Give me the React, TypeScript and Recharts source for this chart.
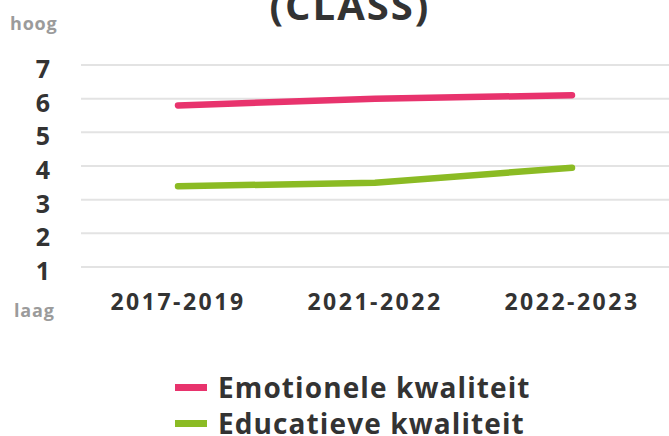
import { CartesianGrid, Line, LineChart, XAxis, YAxis } from "recharts";

const perioden = ["2017-2019", "2021-2022", "2022-2023"];
const emotioneel = [5.8, 6.0, 6.1];
const educatief = [3.4, 3.5, 3.95];
const yTicks = [1, 2, 3, 4, 5, 6, 7];

const PINK = "#e8336d";
const GREEN = "#8bbb24";
const DARK = "#333333";
const GREY = "#9b9b9b";
const FONT = "'Open Sans', sans-serif";

const data = perioden.map((p, i) => ({
  periode: p,
  emotioneel: emotioneel[i],
  educatief: educatief[i],
}));

const legendItems = [
  { name: "Emotionele kwaliteit", color: PINK },
  { name: "Educatieve kwaliteit", color: GREEN },
];

function YTick({ y, payload }: any) {
  return (
    <text x={43} y={y} dy={13} textAnchor="middle" fill={DARK} fontSize={25} fontWeight={700} fontFamily={FONT}>
      {payload.value}
    </text>
  );
}

function XTick({ x, payload }: any) {
  return (
    <text x={x} y={310} textAnchor="middle" fill={DARK} fontSize={23} fontWeight={700} fontFamily={FONT} letterSpacing={2.5}>
      {payload.value}
    </text>
  );
}

export default function App() {
  return (
    <div style={{ position: "absolute", left: 0, top: 0, width: 669, height: 436, overflow: "hidden", background: "#fff", fontFamily: FONT }}>
      <div style={{ position: "absolute", left: 0, width: 700, top: -23, textAlign: "center", fontSize: 40, fontWeight: 700, letterSpacing: 2, color: DARK }}>
        (CLASS)
      </div>
      <div style={{ position: "absolute", left: 10, top: 11, fontSize: 18, fontWeight: 700, letterSpacing: 0.8, color: GREY }}>hoog</div>
      <div style={{ position: "absolute", left: 14, top: 298, fontSize: 18, fontWeight: 700, letterSpacing: 0.8, color: GREY }}>laag</div>
      <LineChart width={669} height={436} data={data} margin={{ top: 65, right: 0, bottom: 109, left: 0 }}>
        <CartesianGrid vertical={false} stroke="#e3e3e3" strokeWidth={2} />
        <XAxis
          dataKey="periode"
          axisLine={false}
          tickLine={false}
          padding={{ left: 97, right: 97 }}
          height={60}
          tick={<XTick />}
        />
        <YAxis
          domain={[1, 7]}
          ticks={yTicks}
          width={81}
          axisLine={false}
          tickLine={false}
          tick={<YTick />}
        />
        <Line dataKey="emotioneel" stroke={PINK} strokeWidth={6.5} strokeLinecap="round" dot={false} isAnimationActive={false} />
        <Line dataKey="educatief" stroke={GREEN} strokeWidth={6.5} strokeLinecap="round" dot={false} isAnimationActive={false} />
      </LineChart>
      <div style={{ position: "absolute", left: 175, top: 369 }}>
        {legendItems.map((it) => (
          <div key={it.name} style={{ display: "flex", alignItems: "center", height: 36, color: DARK, fontSize: 28, fontWeight: 700, letterSpacing: 1.1 }}>
            <span style={{ display: "inline-block", width: 32, height: 7, background: it.color, marginRight: 11 }} />
            {it.name}
          </div>
        ))}
      </div>
    </div>
  );
}
